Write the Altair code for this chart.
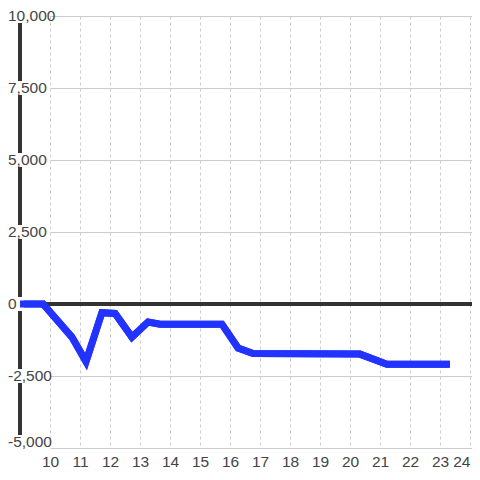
import altair as alt
import pandas as pd

# data series (x in hours, y value)
xs = [9.0, 9.77, 10.73, 11.2, 11.73, 12.17, 12.73, 13.27, 13.67, 15.73, 16.27, 16.77, 20.33, 21.23, 23.33]
ys = [0, 0, -1150, -2000, -300, -330, -1150, -625, -700, -700, -1530, -1720, -1740, -2090, -2090]

x_ticks = list(range(10, 25))
y_grid = [-5000, -3750, -2500, -1250, 0, 1250, 2500, 3750, 5000, 6250, 7500, 8750, 10000]
y_labels = [-5000, -2500, 0, 2500, 5000, 7500, 10000]

line_df = pd.DataFrame({"x": xs, "y": ys})
lab_df = pd.DataFrame({"v": y_labels})

FONT = "Liberation Sans"
FS = 15.5
LC = "#444444"
BLUE = "#2233ff"
DARK = "#333333"

W = 422
xscale = alt.Scale(domain=[10, 10 + W / 30.0], nice=False, zero=False)
yscale = alt.Scale(domain=[-5000, 10000], nice=False, zero=False)

line = alt.Chart(line_df).mark_line(color=BLUE, strokeWidth=7, clip=False, strokeCap="butt").encode(
    x=alt.X("x:Q", scale=xscale, title=None,
            axis=alt.Axis(values=x_ticks, grid=True, gridDash=[3, 3], gridColor="#cccccc",
                          ticks=False, domain=False, labelFont=FONT, labelFontSize=FS,
                          labelColor=LC, labelPadding=6, format="d", labelFlush=False,
                          labelAlign=alt.condition("datum.value >= 24", alt.value("right"), alt.value("center")))),
    y=alt.Y("y:Q", scale=yscale, title=None,
            axis=alt.Axis(values=y_grid, grid=True, gridColor="#cccccc", labels=False,
                          ticks=False, domain=False)),
)

zero_rule = alt.Chart(lab_df).mark_rule(color=DARK, strokeWidth=3, clip=False).encode(
    y=alt.datum(0, scale=yscale), x=alt.value(-30), x2=alt.value(W)
)

axis_rule = alt.Chart(lab_df).mark_rule(color=DARK, strokeWidth=3, clip=False).encode(
    x=alt.value(-30), y=alt.value(0), y2=alt.value(432)
)

base_lab = alt.Chart(lab_df).transform_calculate(
    t="(datum.v < 0 ? '-' : '') + format(abs(datum.v), ',')")

bg_mid = base_lab.transform_filter("datum.v > -5000").mark_rect(
    color="white", clip=False, yOffset=-7, y2Offset=7).encode(
    x=alt.value(-34), x2=alt.value(-26),
    y=alt.Y("v:Q", scale=yscale), y2="v:Q")
bg_bot = base_lab.transform_filter("datum.v == -5000").mark_rect(
    color="white", clip=False, yOffset=-13, y2Offset=1).encode(
    x=alt.value(-34), x2=alt.value(-26),
    y=alt.Y("v:Q", scale=yscale), y2="v:Q")

txt_mid = base_lab.transform_filter("datum.v > -5000").mark_text(
    align="left", baseline="middle", font=FONT, fontSize=FS, color=LC, clip=False).encode(
    x=alt.value(-42), y=alt.Y("v:Q", scale=yscale), text="t:N")
txt_bot = base_lab.transform_filter("datum.v == -5000").mark_text(
    align="left", baseline="middle", font=FONT, fontSize=FS, color=LC, clip=False, dy=-6).encode(
    x=alt.value(-42), y=alt.Y("v:Q", scale=yscale), text="t:N")

chart = alt.layer(
    line, zero_rule, axis_rule, bg_mid, bg_bot, txt_mid, txt_bot, line
).properties(
    width=W, height=432,
    autosize=alt.AutoSizeParams(type="none"),
    padding={"left": 42, "top": 8, "right": 0, "bottom": 22},
    background="white",
).configure_view(stroke=None)

chart.save("out.html", embed_options={"renderer": "svg", "actions": False})
